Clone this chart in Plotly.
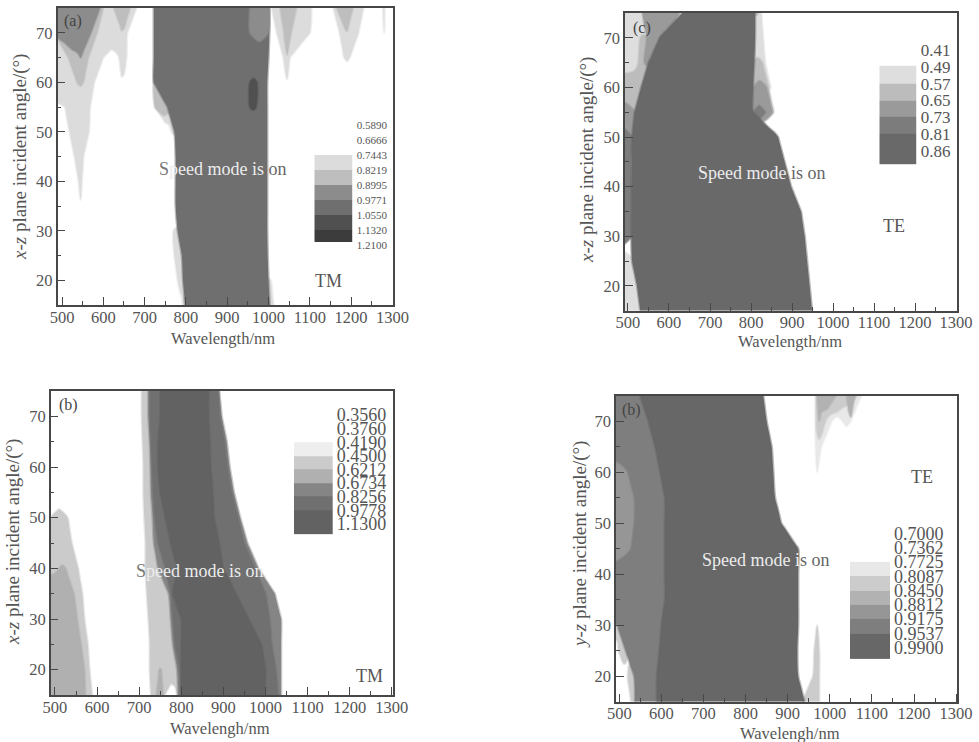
import plotly.graph_objects as go

W, H = 979, 742
wavelength_grid = list(range(400, 1311, 5))
angles = [15, 20, 25, 30, 35, 40, 45, 50, 55, 60, 65, 70, 75]

levels_a = ["0.5890", "0.6666", "0.7443", "0.8219", "0.8995", "0.9771", "1.0550", "1.1320", "1.2100"]
levels_b = ["0.3560", "0.3760", "0.4190", "0.4500", "0.6212", "0.6734", "0.8256", "0.9778", "1.1300"]
levels_c = ["0.41", "0.49", "0.57", "0.65", "0.73", "0.81", "0.86"]
levels_d = ["0.7000", "0.7362", "0.7725", "0.8087", "0.8450", "0.8812", "0.9175", "0.9537", "0.9900"]

colors_a = ["#dcdcdc", "#bebebe", "#8c8c8c", "#6f6f6f", "#505050", "#3c3c3c"]
colors_b = ["#eeeeee", "#cbcbcb", "#b0b0b0", "#858585", "#707070", "#626262"]
colors_c = ["#dedede", "#bcbcbc", "#9a9a9a", "#7c7c7c", "#696969"]
colors_d = ["#e8e8e8", "#cccccc", "#b2b2b2", "#969696", "#7e7e7e", "#676767"]

# Wavelength spans (nm) read at each incident angle for each level band.
# Each list is (band number, {angle: [(from, to), ...]}), later entries lying over earlier ones.
regions_a = [
    (0, {75: [(400, 680), (1008, 1104), (1157, 1230), (1276, 1281)],
         70: [(400, 658), (1020, 1100), (1172, 1218), (1277, 1280)],
         65: [(400, 600), (638, 656), (1036, 1052), (1183, 1197)],
         60: [(400, 578), (647, 647), (1044, 1044)],
         55: [(507, 568), (725, 775)], 50: [(518, 565), (765, 780)],
         45: [(530, 552)], 40: [(540, 548)], 35: [(544, 544)],
         30: [(770, 785)], 25: [(772, 790)], 20: [(780, 795), (998, 1005)],
         15: [(792, 800), (1000, 1012)]}),
    (1, {75: [(400, 600), (625, 665), (1028, 1068), (1165, 1205)],
         70: [(480, 585), (647, 647), (1037, 1055), (1189, 1189)],
         65: [(515, 564), (1044, 1044)], 60: [(536, 552), (722, 750)],
         55: [(725, 770)]}),
    (2, {75: [(400, 592)], 70: [(480, 570)], 65: [(545, 545)]}),
    (3, {75: [(722, 1002)], 70: [(722, 1002)], 65: [(722, 1000)], 60: [(722, 997)],
         55: [(755, 997)], 50: [(772, 997)], 45: [(775, 997)], 40: [(775, 997)],
         35: [(775, 997)], 30: [(780, 997)], 25: [(790, 998)], 20: [(793, 1000)],
         15: [(798, 1003)]}),
    (2, {75: [(955, 1002)], 70: [(955, 1000)]}),
    (4, {60: [(955, 972)], 55: [(955, 970)]}),
]
regions_b = [
    (1, {50: [(490, 530)], 45: [(400, 540)], 40: [(400, 555)], 35: [(400, 565)], 30: [(400, 570)],
         25: [(400, 578)], 20: [(400, 582)], 15: [(400, 588)]}),
    (2, {40: [(510, 525)], 35: [(400, 545)], 30: [(400, 553)], 25: [(400, 562)],
         20: [(400, 570)], 15: [(400, 572)]}),
    (1, {75: [(706, 730)], 70: [(706, 730)], 65: [(708, 730)], 60: [(710, 735)], 55: [(710, 740)],
         50: [(712, 745)], 45: [(715, 760)], 40: [(715, 770)], 35: [(718, 775)], 30: [(722, 785)],
         25: [(725, 790)], 20: [(725, 795)], 15: [(728, 760), (790, 800)]}),
    (2, {20: [(748, 752)], 15: [(741, 757)]}),
    (3, {75: [(722, 890)], 70: [(722, 896)], 65: [(725, 908)], 60: [(727, 915)], 55: [(728, 925)],
         50: [(732, 940)], 45: [(735, 957)], 40: [(745, 983)], 35: [(770, 1022)], 30: [(775, 1037)],
         25: [(780, 1037)], 20: [(790, 1037)], 15: [(792, 1037)]}),
    (4, {75: [(725, 888)], 70: [(725, 892)], 65: [(728, 903)], 60: [(730, 910)], 55: [(733, 920)],
         50: [(737, 935)], 45: [(745, 950)], 40: [(762, 975)], 35: [(775, 1000)], 30: [(780, 1010)],
         25: [(785, 1015)], 20: [(795, 1025)], 15: [(797, 1030)]}),
    (5, {75: [(750, 865)], 70: [(750, 865)], 65: [(745, 868)], 60: [(745, 870)], 55: [(750, 875)],
         50: [(762, 878)], 45: [(775, 890)], 40: [(790, 900)], 35: [(780, 930)], 30: [(800, 960)],
         25: [(800, 990)], 20: [(800, 1000)], 15: [(800, 997)]}),
]
regions_c = [
    (0, {75: [(400, 540), (805, 825)], 70: [(400, 540), (805, 830)], 65: [(400, 535), (805, 835)],
         60: [(400, 530), (805, 848)], 25: [(400, 515)], 20: [(400, 530)], 15: [(400, 532)]}),
    (1, {75: [(805, 818)], 70: [(530, 545)], 65: [(525, 550), (805, 828)],
         60: [(400, 535), (805, 843)], 55: [(400, 520), (805, 855)], 50: [(400, 510)]}),
    (2, {75: [(535, 626)], 70: [(545, 590)], 65: [(540, 552)], 60: [(805, 838)],
         55: [(400, 518), (810, 852)], 50: [(400, 512)], 45: [(400, 508)], 40: [(400, 508)],
         35: [(400, 508)], 30: [(400, 508)]}),
    (3, {55: [(805, 835)], 50: [(400, 510)], 45: [(400, 508)], 40: [(400, 508)],
         35: [(400, 508)], 30: [(400, 508)]}),
    (4, {75: [(632, 810)], 70: [(577, 810)], 65: [(550, 808)], 60: [(532, 805)], 55: [(516, 806)],
         50: [(510, 866)], 45: [(509, 882)], 40: [(508, 898)], 35: [(508, 922)], 30: [(508, 931)],
         25: [(510, 937)], 20: [(522, 943)], 15: [(530, 949)]}),
]
regions_d = [
    (0, {75: [(965, 1075)], 70: [(965, 1005), (1030, 1050)], 65: [(966, 980)], 60: [(970, 970)]}),
    (1, {75: [(968, 1065)], 70: [(968, 990)], 65: [(972, 972)],
         30: [(400, 500), (970, 970)], 25: [(498, 520), (963, 975)], 20: [(520, 537), (960, 975)],
         15: [(528, 540), (935, 975)]}),
    (2, {75: [(970, 1015), (1040, 1060)], 70: [(975, 975), (1048, 1048)]}),
    (4, {75: [(400, 650)], 70: [(400, 650)], 65: [(400, 650)], 60: [(400, 650)], 55: [(400, 650)],
         50: [(400, 650)], 45: [(400, 650)], 40: [(400, 650)], 35: [(400, 650)], 30: [(495, 650)],
         25: [(515, 650)], 20: [(535, 650)], 15: [(537, 650)]}),
    (3, {60: [(400, 518)], 55: [(400, 533)], 50: [(400, 533)], 45: [(400, 525)]}),
    (5, {75: [(549, 842)], 70: [(569, 850)], 65: [(585, 862)], 60: [(597, 866)], 55: [(608, 870)],
         50: [(608, 885)], 45: [(608, 925)], 40: [(608, 925)], 35: [(608, 925)], 30: [(600, 925)],
         25: [(595, 923)], 20: [(589, 925)], 15: [(589, 940)]}),
]

TXT = "#555555"
AXC = "#474747"
FONT = "Liberation Serif"

panels = [
    dict(regions=regions_a, colors=colors_a, levels=levels_a, box=(57.5, 392.7, 8, 305), xr=(489, 1300.7),
         xt="Wavelength/nm", yt="<i>x-z</i> plane incident angle/(°)", xtp=(223, 338), ytp=(20, 157),
         leg=dict(x=(314.3, 352.7), first=125, step=15, edges=[2, 3, 4, 5, 6, 7, 7.78], size=11),
         letter="(a)", lp=(526, 72.4), mode="TM", mp=(1146, 19.8),
         speed=("S", "peed mode is", " on"), sp=(890, 42.5)),
    dict(regions=regions_c, colors=colors_c, levels=levels_c, box=(625, 956.7, 13, 310.7), xr=(492.7, 1301.7),
         xt="Wavelength/nm", yt="<i>x-z</i> plane incident angle/(°)", xtp=(790, 342), ytp=(587, 160),
         leg=dict(x=(879.3, 916.7), first=50, step=16.8, edges=[0.94, 2, 3, 4, 5, 6.85], size=17),
         letter="(c)", lp=(533, 72), mode="TE", mp=(1149, 32),
         speed=("", "Speed mode", " is on"), sp=(826, 42.7)),
    dict(regions=regions_b, colors=colors_b, levels=levels_b, box=(50.7, 393.3, 391, 695), xr=(489.8, 1303.6),
         xt="Wavelengh/nm", yt="<i>x-z</i> plane incident angle/(°)", xtp=(220, 728), ytp=(13, 542),
         leg=dict(x=(294, 332.7), first=415, step=13.6, edges=[2, 3, 4, 5, 6, 7, 8.75], size=18),
         letter="(b)", lp=(531, 72.3), mode="TM", mp=(1248, 18.7),
         speed=("S", "peed mode is on", ""), sp=(844, 39.4)),
    dict(regions=regions_d, colors=colors_d, levels=levels_d, box=(616, 957.3, 395.7, 701.7), xr=(492.2, 1302.8),
         xt="Wavelengh/nm", yt="<i>y-z</i> plane incident angle/(°)", xtp=(790, 733), ytp=(580, 545),
         leg=dict(x=(850, 890), first=533.3, step=14.3, edges=[2, 3, 4, 5, 6, 7, 8.8], size=18),
         letter="(b)", lp=(529, 72.2), mode="TE", mp=(1218, 59),
         speed=("", "Speed mode i", "s on"), sp=(848, 42.7)),
]


def inside_depth(spans, x):
    """How far (nm) wavelength x lies inside the spans read at one angle; negative outside."""
    if not spans:
        return -40
    return max(-40, max(min(x - a, b - x) for a, b in spans))


def soft(hex_color, alpha=0.45):
    r, g, b = (int(hex_color[i:i + 2], 16) for i in (1, 3, 5))
    return f"rgba({r},{g},{b},{alpha})"


fig = go.Figure()
layout = {}
annotations = []

for n, p in enumerate(panels, start=1):
    xa, ya = f"x{n}", f"y{n}"
    x0, x1, y0, y1 = p["box"]
    k = len(p["colors"])
    for band, spans_by_angle in p["regions"]:
        z = [[inside_depth(spans_by_angle.get(ang), x) for x in wavelength_grid] for ang in angles]
        fig.add_trace(go.Contour(
            x=wavelength_grid, y=angles, z=z, xaxis=xa, yaxis=ya, showscale=False,
            contours=dict(type="constraint", operation="<=", value=0),
            fillcolor=p["colors"][band], line=dict(width=2.5, color=soft(p["colors"][band])),
            hoverinfo="skip",
        ))
    layout[f"xaxis{n}"] = dict(
        domain=[x0 / W, x1 / W], range=list(p["xr"]), anchor=ya, tick0=500, dtick=100,
        ticks="inside", ticklen=8, tickwidth=1.2, tickcolor=AXC, ticklabelstandoff=-4,
        minor=dict(dtick=50, ticks="inside", ticklen=4, tickcolor=AXC, tickwidth=1.2),
        showline=True, linecolor=AXC, linewidth=1.5, mirror=True, showgrid=False, zeroline=False,
        automargin=False, tickfont=dict(family=FONT, size=16.5, color=TXT),
    )
    layout[f"yaxis{n}"] = dict(
        domain=[1 - y1 / H, 1 - y0 / H], range=[15, 75], anchor=xa, tick0=20, dtick=10,
        ticks="inside", ticklen=8, tickwidth=1.2, tickcolor=AXC,
        minor=dict(dtick=5, ticks="inside", ticklen=4, tickcolor=AXC, tickwidth=1.2),
        showline=True, linecolor=AXC, linewidth=1.5, mirror=True, showgrid=False, zeroline=False,
        automargin=False, tickfont=dict(family=FONT, size=16.5, color=TXT),
    )

    # level key, as an inset heat map with the level labels as its axis ticks
    lg = p["leg"]
    m = n + 4
    nb = len(p["levels"])
    ptop = lg["first"] - 0.5 * lg["step"]
    pbot = lg["first"] + (nb - 0.2) * lg["step"]
    scale = [[i / (k - 1), c] for i, c in enumerate(p["colors"])]
    fig.add_trace(go.Heatmap(
        x=[0, 1], y=lg["edges"], z=[[i] for i in range(k)],
        xaxis=f"x{m}", yaxis=f"y{m}", colorscale=scale, zmin=0, zmax=k - 1,
        showscale=False, hoverinfo="skip",
    ))
    layout[f"xaxis{m}"] = dict(domain=[lg["x"][0] / W, lg["x"][1] / W], range=[0, 1], anchor=f"y{m}",
                               visible=False)
    layout[f"yaxis{m}"] = dict(
        domain=[1 - pbot / H, 1 - ptop / H], range=[nb - 0.2, -0.5], anchor=f"x{m}", side="right",
        tickmode="array", tickvals=list(range(nb)), ticktext=p["levels"], ticks="",
        showline=False, showgrid=False, zeroline=False, automargin=False,
        tickfont=dict(family=FONT, size=lg["size"], color=TXT), ticklabelstandoff=3,
    )

    a, b, c = p["speed"]
    stxt = ""
    if a:
        stxt += f'<span style="color:#777777">{a}</span>'
    stxt += f'<span style="color:#ececec">{b}</span>'
    if c:
        stxt += f'<span style="color:#666666">{c}</span>'
    annotations += [
        dict(x=p["sp"][0], y=p["sp"][1], xref=xa, yref=ya, text=stxt, showarrow=False,
             font=dict(family=FONT, size=18, color="#ececec")),
        dict(x=p["mp"][0], y=p["mp"][1], xref=xa, yref=ya, text=p["mode"], showarrow=False,
             font=dict(family=FONT, size=18, color=TXT)),
        dict(x=p["lp"][0], y=p["lp"][1], xref=xa, yref=ya, text=p["letter"], showarrow=False,
             font=dict(family=FONT, size=16, color="#444444")),
        dict(x=p["xtp"][0] / W, y=1 - p["xtp"][1] / H, xref="paper", yref="paper", text=p["xt"],
             xanchor="center", yanchor="middle",
             showarrow=False, font=dict(family=FONT, size=16.5, color=TXT)),
        dict(x=p["ytp"][0] / W, y=1 - p["ytp"][1] / H, xref="paper", yref="paper", text=p["yt"],
             xanchor="center", yanchor="middle",
             showarrow=False, textangle=-90, font=dict(family=FONT, size=19, color=TXT)),
    ]

fig.update_layout(width=W, height=H, margin=dict(l=0, r=0, t=0, b=0), autosize=False,
                  paper_bgcolor="white", plot_bgcolor="rgba(0,0,0,0)", showlegend=False,
                  annotations=annotations, **layout)
fig.write_html("out.html", config={"displayModeBar": False},
               post_script="document.body.style.margin='0';")
